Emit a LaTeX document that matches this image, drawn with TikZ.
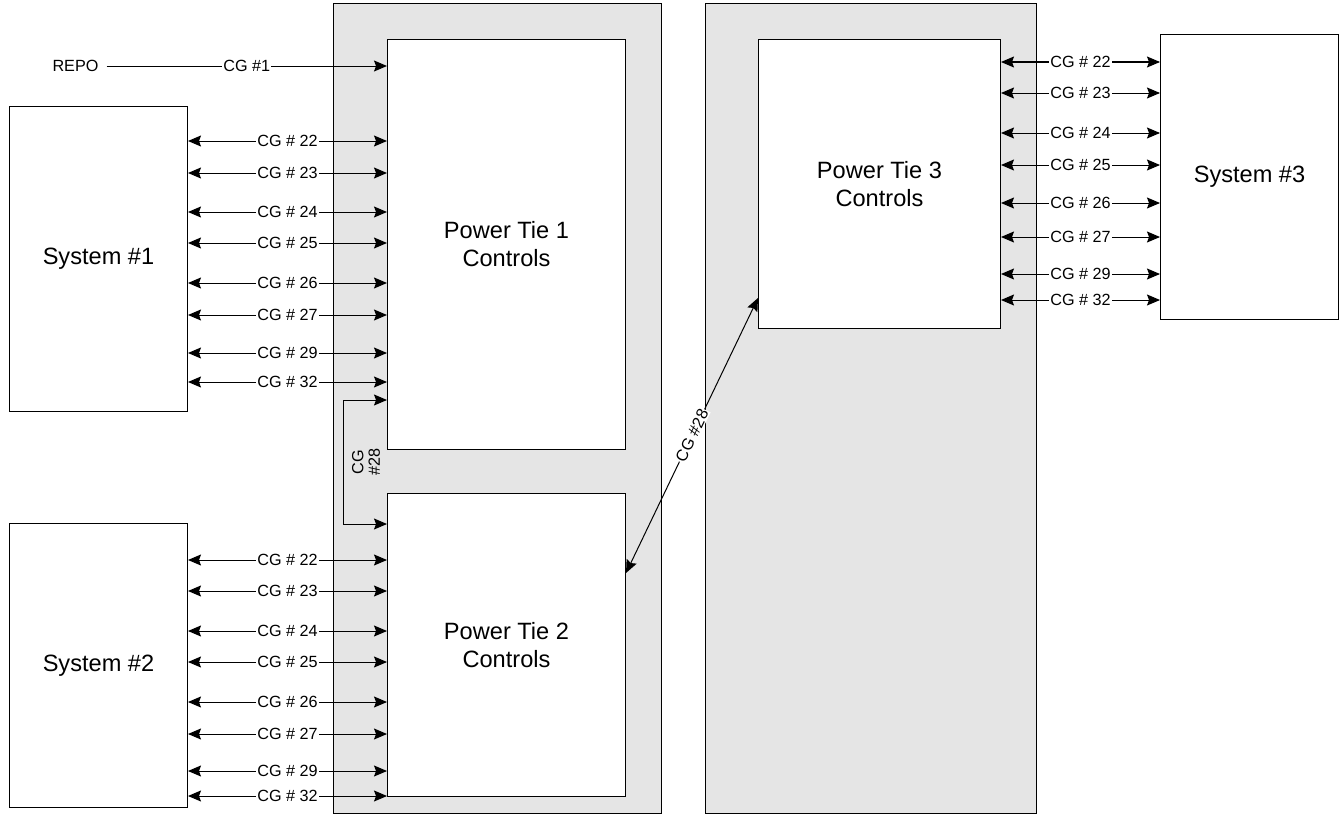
\documentclass[tikz,border=0pt]{standalone}
\usepackage{fontspec}
\setmainfont{Liberation Sans}
\usetikzlibrary{arrows.meta}
\begin{document}
\begin{tikzpicture}[x=1bp,y=-1bp,
  panel/.style={draw=black,line width=1bp,fill=black!10},
  blk/.style={draw=black,line width=1bp,fill=white,anchor=north west,inner sep=0pt,align=center,font=\fontsize{23.6bp}{28bp}\selectfont},
  conn/.style={line width=1bp},
  bi/.style={conn,{Stealth[length=13bp,width=11bp,inset=2bp]}-{Stealth[length=13bp,width=11bp,inset=2bp]}},
  uni/.style={conn,-{Stealth[length=13bp,width=11bp,inset=2bp]}},
  lbl/.style={fill=white,inner sep=1bp,font=\fontsize{16.2bp}{18bp}\selectfont}
]
\useasboundingbox (0,0) rectangle (1343,814);
% gray panels
\draw[panel] (333,4) rectangle (661,813);
\draw[panel] (705,4) rectangle (1036,813);
% blocks
\node[blk,minimum width=238bp,minimum height=410bp] (pt1) at (387,39) {Power Tie 1\\Controls};
\node[blk,minimum width=238bp,minimum height=303bp] (pt2) at (387,493) {Power Tie 2\\Controls};
\node[blk,minimum width=242bp,minimum height=289bp] (pt3) at (758,39) {Power Tie 3\\Controls};
\node[blk,minimum width=178bp,minimum height=305bp] (sys1) at (9,106) {System \#1};
\node[blk,minimum width=178bp,minimum height=284bp] (sys2) at (9,523) {System \#2};
\node[blk,minimum width=178bp,minimum height=285bp] (sys3) at (1160,34) {System \#3};
% REPO
\node[inner xsep=8bp,inner ysep=2bp,font=\fontsize{16.2bp}{18bp}\selectfont] (repo) at (75.5,66) {REPO};
\draw[uni] (repo.east) -- node[lbl]{CG \#1} (pt1.west |- repo.east);
% System 1 <-> PT1
\foreach \yy/\n in {141/22,173/23,212/24,243/25,283/26,315/27,353/29,382/32}
  \draw[bi] (sys1.east |- 0,\yy) -- node[lbl]{CG \# \n} (pt1.west |- 0,\yy);
% System 2 <-> PT2
\foreach \yy/\n in {560/22,591/23,631/24,662/25,702/26,734/27,771/29,796/32}
  \draw[bi] (sys2.east |- 0,\yy) -- node[lbl]{CG \# \n} (pt2.west |- 0,\yy);
% PT3 <-> System 3
\foreach \yy/\n in {62/22,93/23,133/24,165/25,203/26,237/27,274/29,300/32}
  \draw[bi] (pt3.east |- 0,\yy) -- node[lbl]{CG \# \n} (sys3.west |- 0,\yy);
% CG #28 loop between PT1 and PT2
\coordinate (c28a) at (343,400);
\coordinate (c28b) at (343,524);
\draw[bi] (pt1.west |- c28a) -- (c28a) -- (c28b) -- (pt2.west |- c28b);
\node[rotate=90,align=center,inner sep=0pt,font=\fontsize{16.2bp}{16.5bp}\selectfont] (c28lbl) at (366,462) {CG\\\#28};
% diagonal CG #28
\draw[bi] (pt2.east |- 0,573) -- node[lbl,sloped]{CG \#28} (pt3.west |- 0,298);
\end{tikzpicture}
\end{document}
